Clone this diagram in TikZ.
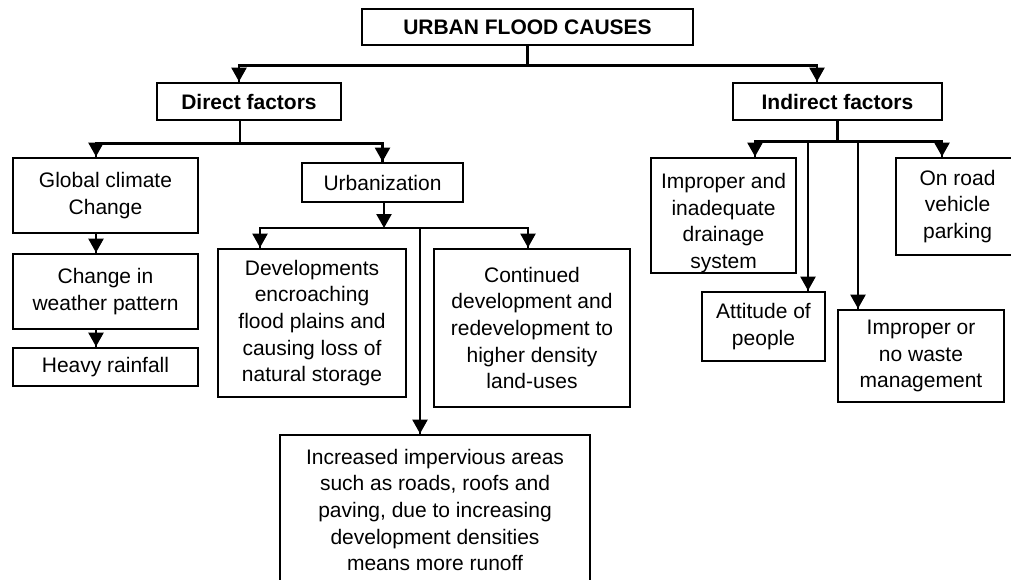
\documentclass[tikz,border=0pt]{standalone}
\usepackage{fontspec}
\setmainfont{Liberation Sans}
\usetikzlibrary{arrows.meta}
\usetikzlibrary{decorations.markings}
\tikzset{->/.style = {decoration={markings,
                                  mark=at position 1 with {\arrow{Triangle[width=7.5pt, length=7pt]}}},
                      postaction={decorate}}}
\tikzset{cause/.style = {draw, line width=1.4pt, align=center, inner sep=2pt,
                         font=\fontsize{10.5}{13.3}\selectfont}}
\tikzset{head/.style = {cause, font=\bfseries\fontsize{10.5}{13.3}\selectfont}}

\begin{document}
\begin{tikzpicture}[x=0.5pt, y=-0.5pt, line width=1.2pt]
      \clip (0, 0) rectangle (1011, 579);
      \node [head, minimum width=165.5pt, minimum height=18pt] (title) at (527.5, 27) {URBAN FLOOD CAUSES};
      \node [head, minimum width=92pt, minimum height=18.5pt] (direct) at (249, 101.5) {Direct factors};
      \node [head, minimum width=104.5pt, minimum height=18.5pt] (indirect) at (837.5, 101.5) {Indirect factors};
      \node [cause, minimum width=92.5pt, minimum height=37.5pt] (climate) at (105.5, 195.5) {Global climate\\Change};
      \node [cause, minimum width=92.5pt, minimum height=37.5pt] (weather) at (105.5, 291.5) {Change in\\weather pattern};
      \node [cause, minimum width=92.5pt, minimum height=19pt] (rainfall) at (105.5, 367) {Heavy rainfall};
      \node [cause, minimum width=80.5pt, minimum height=19.5pt] (urban) at (382.5, 182.5) {Urbanization};
      \node [cause, minimum width=94pt, minimum height=74pt] (develop) at (312, 323) {Developments\\encroaching\\flood plains and\\causing loss of\\natural storage};
      \node [cause, minimum width=98pt, minimum height=79pt] (continued) at (532, 328) {Continued\\development and\\redevelopment to\\higher density\\land-uses};
      \node [cause, minimum width=155pt, minimum height=75pt] (impervious) at (435, 510) {Increased impervious areas\\such as roads, roofs and\\paving, due to increasing\\development densities\\means more runoff};
      \node [cause, inner ysep=0pt, minimum width=72.5pt, minimum height=57.5pt] (drainage) at (723.5, 215.5) {\rule{0pt}{15pt}Improper and\\inadequate\\drainage\\system};
      \node [cause, minimum width=61.5pt, minimum height=48.5pt] (parking) at (957.5, 206.5) {On road\\vehicle\\parking};
      \node [cause, minimum width=61.5pt, minimum height=34.5pt] (attitude) at (763.5, 326.5) {Attitude of\\people};
      \node [cause, minimum width=83pt, minimum height=46pt] (waste) at (921, 356) {Improper or\\no waste\\management};
      \draw (title.south) -- ++(0, 19) coordinate (top);
      \draw [->] (top) -| ([xshift=-5pt]direct.north);
      \draw [->] (top) -| ([xshift=-10.25pt]indirect.north);
      \draw ([xshift=-4.5pt]direct.south) -- ++(0, 22) coordinate (dbus);
      \draw [->] (dbus) -| ([xshift=-4.75pt]climate.north);
      \draw [->] (dbus) -| (urban.north);
      \draw [->] ([xshift=-4.75pt]climate.south) -- ([xshift=-4.75pt]weather.north);
      \draw [->] ([xshift=-4.75pt]weather.south) -- ([xshift=-4.75pt]rainfall.north);
      \coordinate (ubus) at (420, 228);
      \draw [->, shorten >=3pt] ([xshift=0.75pt]urban.south) -- ([xshift=0.75pt]urban.south |- ubus);
      \draw [->] (ubus) -| ([xshift=-26pt]develop.north);
      \draw [->] (ubus) -| ([xshift=-2pt]continued.north);
      \draw [->] (ubus) -- (impervious.north -| ubus);
      \draw (indirect.south) -- ++(0, 20) coordinate (ibus);
      \draw [->] (ibus) -| ([xshift=15.75pt]drainage.north);
      \draw [->] (ibus) -| ([xshift=-7.75pt]parking.north);
      \draw [->] (ibus) -| ([xshift=22.25pt]attitude.north);
      \draw [->] (ibus) -| ([xshift=-31.5pt]waste.north);
    \end{tikzpicture}
\end{document}
